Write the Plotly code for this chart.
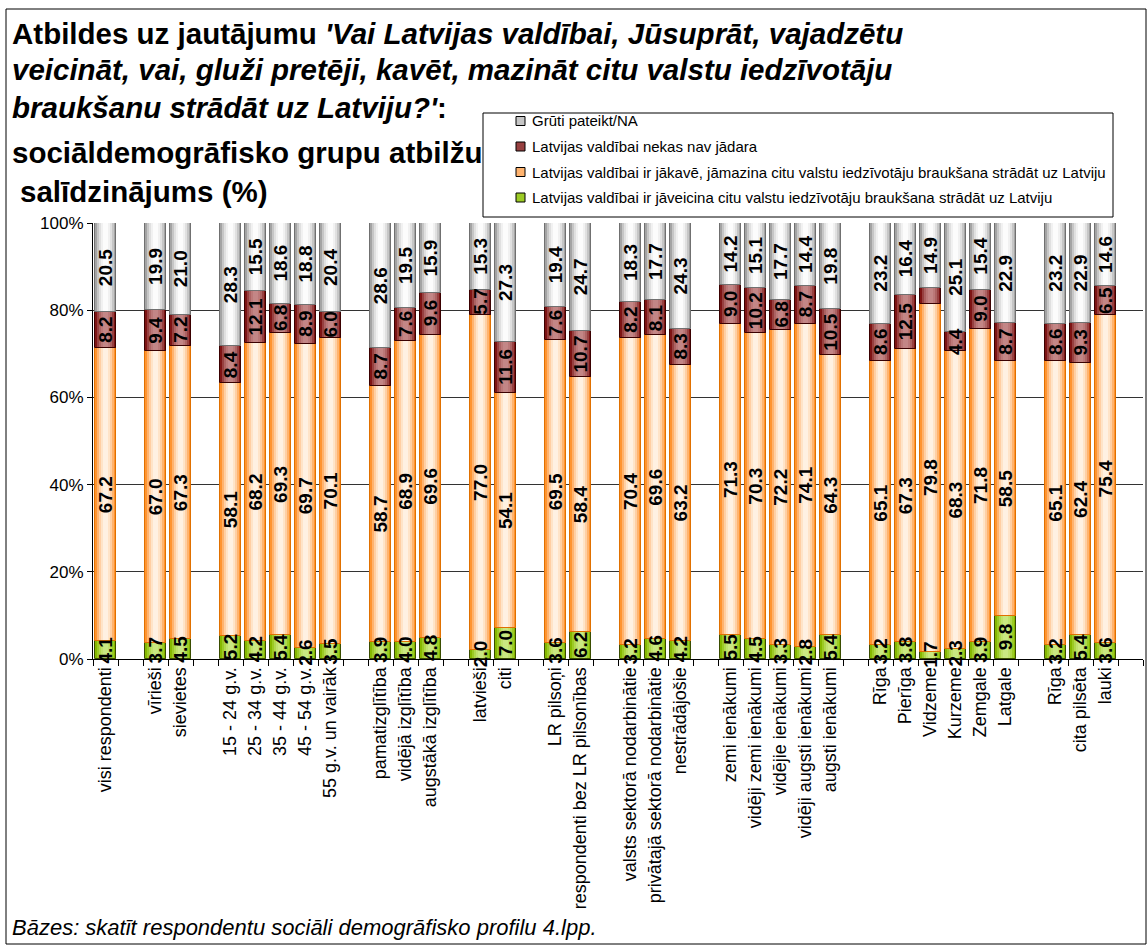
import plotly.graph_objects as go

# ---- data -------------------------------------------------------------
group_sizes = [1, 2, 5, 3, 2, 2, 3, 5, 6, 3]
categories = [
    "visi respondenti",
    "vīrieši", "sievietes",
    "15 - 24 g.v.", "25 - 34 g.v.", "35 - 44 g.v.", "45 - 54 g.v.", "55 g.v. un vairāk",
    "pamatizglītība", "vidējā izglītība", "augstākā izglītība",
    "latvieši", "citi",
    "LR pilsoņi", "respondenti bez LR pilsonības",
    "valsts sektorā nodarbinātie", "privātajā sektorā nodarbinātie", "nestrādājošie",
    "zemi ienākumi", "vidēji zemi ienākumi", "vidējie ienākumi",
    "vidēji augsti ienākumi", "augsti ienākumi",
    "Rīga", "Pierīga", "Vidzeme", "Kurzeme", "Zemgale", "Latgale",
    "Rīga", "cita pilsēta", "lauki",
]
ja_veicina = [4.1, 3.7, 4.5, 5.2, 4.2, 5.4, 2.6, 3.5, 3.9, 4.0, 4.8, 2.0, 7.0, 3.6, 6.2,
              3.2, 4.6, 4.2, 5.5, 4.5, 3.3, 2.8, 5.4, 3.2, 3.8, 1.7, 2.3, 3.9, 9.8,
              3.2, 5.4, 3.6]
ja_kave = [67.2, 67.0, 67.3, 58.1, 68.2, 69.3, 69.7, 70.1, 58.7, 68.9, 69.6, 77.0, 54.1,
           69.5, 58.4, 70.4, 69.6, 63.2, 71.3, 70.3, 72.2, 74.1, 64.3, 65.1, 67.3, 79.8,
           68.3, 71.8, 58.5, 65.1, 62.4, 75.4]
nekas_nav = [8.2, 9.4, 7.2, 8.4, 12.1, 6.8, 8.9, 6.0, 8.7, 7.6, 9.6, 5.7, 11.6, 7.6, 10.7,
             8.2, 8.1, 8.3, 9.0, 10.2, 6.8, 8.7, 10.5, 8.6, 12.5, 3.6, 4.4, 9.0, 8.7,
             8.6, 9.3, 6.5]
gruti = [20.5, 19.9, 21.0, 28.3, 15.5, 18.6, 18.8, 20.4, 28.6, 19.5, 15.9, 15.3, 27.3,
         19.4, 24.7, 18.3, 17.7, 24.3, 14.2, 15.1, 17.7, 14.4, 19.8, 23.2, 16.4, 14.9,
         25.1, 15.4, 22.9, 23.2, 22.9, 14.6]
# value labels left out of the chart (category index per series)
unlabelled = {"nekas": [25]}

y_ticks = [0, 20, 40, 60, 80, 100]

# ---- layout geometry (pixels) ---------------------------------------
W, H = 1147, 946
L, R, T, B = 93, 4, 223, 287
PW, PH = W - L - R, H - T - B


def px(x):
    return (x - L) / PW


def py(y):
    return (H - B - y) / PH


# slot positions: one empty slot between groups
positions = []
slot = 0
for n in group_sizes:
    for _ in range(n):
        positions.append(slot)
        slot += 1
    slot += 1
n_slots = slot - 1

FONT = "Liberation Sans, Arial, Helvetica, sans-serif"

series = [
    dict(key="veicina", values=ja_veicina,
         name="Latvijas valdībai ir jāveicina citu valstu iedzīvotāju braukšana strādāt uz Latviju",
         stops=["#86B800", "#9CCB25", "#B0D84C", "#C0E26C", "#CAE881"], outline="#3A4D00"),
    dict(key="kave", values=ja_kave,
         name="Latvijas valdībai ir jākavē, jāmazina citu valstu iedzīvotāju braukšana strādāt uz Latviju",
         stops=["#FF9430", "#FFB36E", "#FFCFA3", "#FFE4C8", "#FFF1E2"], outline="#E07000"),
    dict(key="nekas", values=nekas_nav,
         name="Latvijas valdībai nekas nav jādara",
         stops=["#7E1414", "#974040", "#AC6262", "#BB7878", "#C38686"], outline="#3A0000"),
    dict(key="gruti", values=gruti,
         name="Grūti pateikt/NA",
         stops=["#A4A4A4", "#C6C6C6", "#E0E0E0", "#F1F1F1", "#FCFCFC"], outline="#707070"),
]
layer_widths = [0.86, 0.70, 0.54, 0.38, 0.22]

fig = go.Figure()
annotations = []
shapes = []
base = [0.0] * len(categories)

for s in series:
    vals = s["values"]
    # shaded segment: concentric bars, lighter towards the centre
    for li, (w, c) in enumerate(zip(layer_widths, s["stops"])):
        fig.add_trace(go.Bar(
            x=positions, y=vals, base=base, width=w, name=s["name"], showlegend=False,
            marker=dict(color=c, line=dict(width=0)),
            hoverinfo="skip" if li else "y+name",
        ))
    # segment outline on top of the shading
    fig.add_trace(go.Bar(
        x=positions, y=vals, base=base, width=layer_widths[0], showlegend=False,
        marker=dict(color="rgba(0,0,0,0)", line=dict(color=s["outline"], width=1)),
        hoverinfo="skip",
    ))
    skip = unlabelled.get(s["key"], [])
    for i, (x, b, v) in enumerate(zip(positions, base, vals)):
        if i in skip:
            continue
        annotations.append(dict(
            x=x, y=b + v / 2, xref="x", yref="y", text=f"{v:.1f}",
            textangle=-90, showarrow=False,
            font=dict(family=FONT, size=19, color="black", weight="bold"),
        ))
    base = [b + v for b, v in zip(base, vals)]

# title, one annotation per line
title_lines = [
    (33, 10, "<b>Atbildes uz jautājumu <i>'Vai Latvijas valdībai, Jūsuprāt, vajadzētu</i></b>"),
    (70, 10, "<b><i>veicināt, vai, gluži pretēji, kavēt, mazināt citu valstu iedzīvotāju</i></b>"),
    (107, 10, "<b><i>braukšanu strādāt uz Latviju?'</i>:</b>"),
    (152, 10, "<b>sociāldemogrāfisko grupu atbilžu</b>"),
    (191, 18, "<b>salīdzinājums (%)</b>"),
]
for y, x, t in title_lines:
    annotations.append(dict(
        x=px(x), y=py(y), xref="paper", yref="paper", xanchor="left", yanchor="middle",
        text=t, showarrow=False, font=dict(family=FONT, size=29.5, color="black"),
    ))

annotations.append(dict(
    x=px(10), y=py(927), xref="paper", yref="paper", xanchor="left", yanchor="middle",
    text="<i>Bāzes: skatīt respondentu sociāli demogrāfisko profilu 4.lpp.</i>",
    showarrow=False, font=dict(family=FONT, size=22, color="black"),
))

# legend box, top entry first
LEG_X0, LEG_X1, LEG_Y0, LEG_Y1 = 483, 1113, 113, 217
leg_rows = [121, 146.5, 172, 197.5]
shapes.append(dict(type="rect", xref="paper", yref="paper",
                   x0=px(LEG_X0), x1=px(LEG_X1), y0=py(LEG_Y1), y1=py(LEG_Y0),
                   line=dict(color="black", width=1), fillcolor="white", layer="above"))
for s, yc in zip(reversed(series), leg_rows):
    shapes.append(dict(type="rect", xref="paper", yref="paper",
                       x0=px(516), x1=px(525), y0=py(yc + 4.5), y1=py(yc - 4.5),
                       line=dict(color="black", width=1), fillcolor=s["stops"][1],
                       layer="above"))
    annotations.append(dict(
        x=px(530), y=py(yc), xref="paper", yref="paper", xanchor="left", yanchor="middle",
        text=s["name"], showarrow=False, font=dict(family=FONT, size=15, color="black"),
    ))

# outer frame
shapes.append(dict(type="rect", xref="paper", yref="paper",
                   x0=px(6), x1=px(1146), y0=py(944), y1=py(9),
                   line=dict(color="black", width=1), fillcolor="rgba(0,0,0,0)",
                   layer="below"))

fig.update_layout(
    width=W, height=H,
    margin=dict(l=L, r=R, t=T, b=B, autoexpand=False),
    paper_bgcolor="white", plot_bgcolor="white",
    barmode="overlay", bargap=0, showlegend=False,
    font=dict(family=FONT, color="black"),
    annotations=annotations, shapes=shapes,
    xaxis=dict(
        range=[-0.5, n_slots + 0.5],
        tickmode="array", tickvals=positions, ticktext=categories,
        tickangle=-90, ticks="", showgrid=False, zeroline=False,
        showline=True, linecolor="black", linewidth=1,
        tickfont=dict(family=FONT, size=18, color="black"),
        minor=dict(tickmode="linear", tick0=-0.5, dtick=1, ticks="outside",
                   ticklen=6, tickcolor="black", showgrid=False),
        fixedrange=True,
    ),
    yaxis=dict(
        range=[0, 100], tickmode="array", tickvals=y_ticks,
        ticktext=[f"{v}%" for v in y_ticks],
        showgrid=True, gridcolor="#333333", gridwidth=1, zeroline=False,
        showline=True, linecolor="black", linewidth=1,
        ticks="outside", ticklen=5, tickcolor="black",
        tickfont=dict(family=FONT, size=17, color="black"),
        fixedrange=True,
    ),
)

fig.write_html("out.html")
